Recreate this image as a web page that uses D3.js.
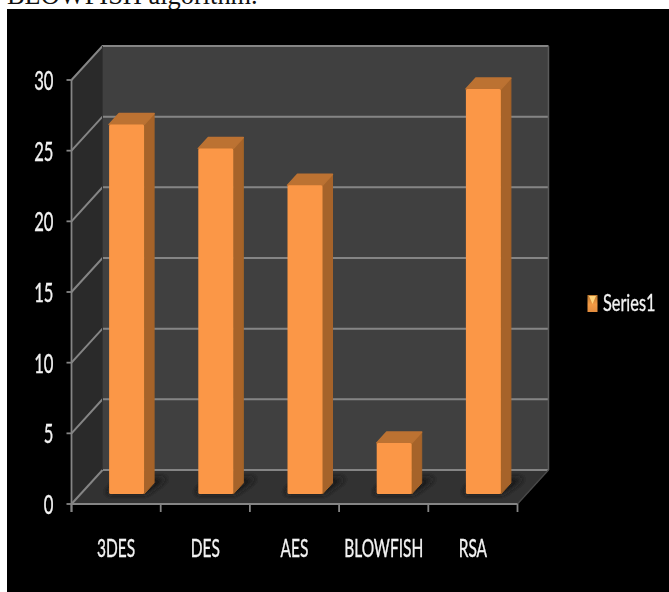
<!DOCTYPE html>
<html><head><meta charset="utf-8">
<script src="https://cdnjs.cloudflare.com/ajax/libs/d3/7.8.5/d3.min.js"></script>
<style>html,body{margin:0;padding:0;background:#fff;overflow:hidden}svg{display:block}</style>
</head><body><svg id="c" width="669" height="592"></svg>
<script>
const categories = ["3DES","DES","AES","BLOWFISH","RSA"];
const values = [26.15,24.45,21.85,3.6,28.65];
const yTicks = [0,5,10,15,20,25,30];
const seriesName = "Series1";
const captionText = "BLOWFISH algorithm.";

const svg = d3.select("#c");
const x = d3.scaleBand().domain(categories).range([71.5,517.5]);
const y = d3.scaleLinear().domain([0,30]).range([504,80]);
const dx = 31, dy = -34;            // wall depth
const barDx = 10, barDy = -11;      // bar depth
const barInX = 10.5, barInY = -10;  // bar offset from the front edge
const barW = 35;
const [x0,x1] = x.range();
const yB = y(0), yT = y(30);

const defs = svg.append("defs");
defs.append("filter").attr("id","soft").append("feGaussianBlur").attr("stdDeviation",0.6);
defs.append("filter").attr("id","shadow").attr("x","-30%").attr("y","-50%").attr("width","160%").attr("height","200%")
  .append("feGaussianBlur").attr("stdDeviation",3.5);
const lg = defs.append("linearGradient").attr("id","leg").attr("x1",0).attr("x2",0).attr("y1",0).attr("y2",1);
lg.append("stop").attr("offset",0).attr("stop-color","#b9772f");
lg.append("stop").attr("offset",0.55).attr("stop-color","#f29a45");
lg.append("stop").attr("offset",1).attr("stop-color","#e28c3e");

// caption and black picture area
svg.append("text").attr("x",7).attr("y",4).attr("font-family","Liberation Serif").attr("font-size",26.4)
  .attr("fill","#111").text(captionText);
svg.append("rect").attr("x",7).attr("y",9).attr("width",662).attr("height",583).attr("fill","#000");

const g = svg.append("g").attr("filter","url(#soft)");
const poly = (pts,fill,par=g) => par.append("polygon").attr("points",pts.map(p=>p.join(",")).join(" ")).attr("fill",fill);

// walls
poly([[x0+dx,yT+dy],[x1+dx,yT+dy],[x1+dx,yB+dy],[x0+dx,yB+dy]],"#404040");
poly([[x0,yT],[x0+dx,yT+dy],[x0+dx,yB+dy],[x0,yB]],"#2b2b2b");
poly([[x0,yB],[x0+dx,yB+dy],[x1+dx,yB+dy],[x1,yB]],"#333333");

// gridlines
const grid = "#858585";
yTicks.forEach(t=>{
  g.append("path").attr("fill","none").attr("stroke",grid).attr("stroke-width",2)
   .attr("d",d3.line()([[x0,y(t)],[x0+dx,y(t)+dy],[x1+dx,y(t)+dy]]));
});
// axes
g.append("line").attr("x1",x1+dx).attr("x2",x1+dx).attr("y1",yT+dy).attr("y2",yB+dy).attr("stroke","#5a5a5a").attr("stroke-width",1.5);
g.append("line").attr("x1",x0+dx).attr("x2",x0+dx).attr("y1",yT+dy).attr("y2",yB+dy).attr("stroke","#333").attr("stroke-width",1);
g.append("line").attr("x1",x1).attr("x2",x1+dx).attr("y1",yB).attr("y2",yB+dy).attr("stroke","#4a4a4a").attr("stroke-width",1.2);
g.append("line").attr("x1",x0).attr("x2",x0).attr("y1",yT).attr("y2",yB+8).attr("stroke",grid).attr("stroke-width",1.8);
g.append("line").attr("x1",x0).attr("x2",x1).attr("y1",yB).attr("y2",yB).attr("stroke",grid).attr("stroke-width",2.2);
yTicks.forEach(t=>g.append("line").attr("x1",x0-5).attr("x2",x0).attr("y1",y(t)).attr("y2",y(t)).attr("stroke",grid).attr("stroke-width",1.8));
[...categories.map(c=>x(c)),x1].forEach(v=>g.append("line").attr("x1",v).attr("x2",v).attr("y1",yB).attr("y2",yB+8).attr("stroke",grid).attr("stroke-width",1.8));

// bars
categories.forEach((c,i)=>{
  const L = x(c)+x.bandwidth()/2 - barW/2 + barInX, R = L+barW;
  const base = yB+barInY, top = base-(yB-y(values[i]));
  g.append("polygon").attr("filter","url(#shadow)").attr("fill","#161616")
   .attr("points",[[L-4,base],[R+2,base],[R+24,base-16],[L+10,base-16]].map(p=>p.join(",")).join(" "));
  poly([[R,top],[R+barDx,top+barDy],[R+barDx,base+barDy],[R,base]],"#a66429")
    .attr("stroke","#a66429").attr("stroke-width",1).attr("stroke-linejoin","round");
  poly([[L,top],[L+barDx,top+barDy],[R+barDx,top+barDy],[R,top]],"#bc7231")
    .attr("stroke","#bc7231").attr("stroke-width",1.5).attr("stroke-linejoin","round");
  g.append("rect").attr("x",L).attr("y",top).attr("width",barW).attr("height",base-top).attr("rx",1.5).attr("fill","#fb9746");
});

// text
const font = "Lato";
const label = (px,py,t,anchor,sx,size) => svg.append("text")
  .attr("transform",`translate(${px},${py}) scale(${sx},1)`)
  .attr("text-anchor",anchor).attr("font-family",font).attr("font-size",size)
  .attr("fill","#f2f2f2").attr("stroke","#f2f2f2").attr("stroke-width",0.35)
  .attr("filter","url(#soft)").text(t);
yTicks.forEach(t=>label(53.5,y(t)+10,t,"end",0.64,26));
categories.forEach(c=>label(x(c)+x.bandwidth()/2,556.5,c,"middle",0.62,25));

// legend
svg.append("rect").attr("x",587.5).attr("y",295).attr("width",10).attr("height",17).attr("fill","url(#leg)");
svg.append("polygon").attr("points","589,296 596,296 592.5,304").attr("fill","#ffd27a").attr("filter","url(#soft)");
label(603,311,seriesName,"start",0.68,24);
</script></body></html>
